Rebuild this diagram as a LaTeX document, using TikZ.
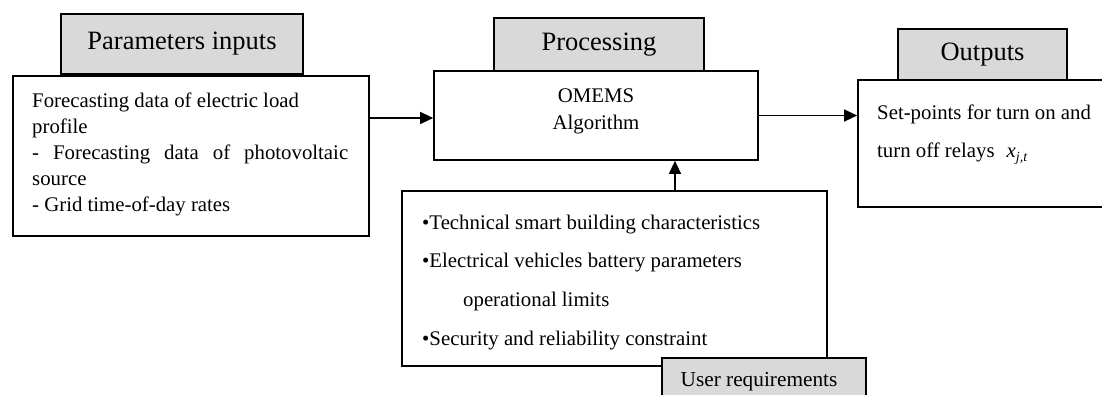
\documentclass[tikz,border=0pt]{standalone}
\usepackage{fontspec}
\setmainfont{Liberation Serif}
\usetikzlibrary{arrows.meta}
\definecolor{tabgray}{RGB}{217,217,217}
\begin{document}
\begin{tikzpicture}[x=1pt,y=-1pt,
  box/.style={draw=black, line width=1.7pt, fill=white, inner sep=0pt},
  tab/.style={draw=black, line width=1.7pt, fill=tabgray, inner sep=0pt,
              font=\fontsize{26.5}{30}\selectfont},
  body/.style={inner sep=0pt, font=\fontsize{20.8}{26}\selectfont},
  arr/.style={-{Triangle[length=13pt,width=12pt]}, line width=1.4pt}]
\clip (0,0) rectangle (1102,394);
\fill[white] (0,0) rectangle (1102,394);

% tabs on top and boxes
\node[tab, minimum width=242pt, minimum height=60pt] (intab) at (182,44) {Parameters inputs};
\node[box, minimum width=356pt, minimum height=160pt] (inbox) at (191,156) {};

\node[tab, minimum width=210pt, minimum height=53pt] (proctab) at (599,44.5) {Processing};
\node[box, minimum width=324pt, minimum height=89pt] (procbox) at (596,115.5) {};

\node[tab, minimum width=169pt, minimum height=51pt] (outtab) at (982.5,54.5) {Outputs};
\node[box, minimum width=262pt, minimum height=127pt] (outbox) at (989,143.5) {};

\node[box, minimum width=425pt, minimum height=175pt] (reqbox) at (614.5,278.5) {};
\node[tab, minimum width=204pt, minimum height=60pt] (usertab) at (764,388) {};
\node[body, font=\fontsize{21.3}{26}\selectfont] (usertext) at (759,382) {User requirements};

% texts
\node[body, anchor=base west] (intext) at (32,107) {\parbox[t]{316pt}{\fontsize{20.8}{26}\selectfont
  Forecasting data of electric load\\
  profile\\
  \makebox[\linewidth][s]{- Forecasting data of photovoltaic}\\
  source\\
  - Grid time-of-day rates}};

\node[body, anchor=base] (proctext) at (596,102) {\parbox[t]{300pt}{\centering\fontsize{20.8}{27}\selectfont
  OMEMS\\Algorithm}};

\node[body, anchor=base west] (outtext) at (877,119) {\parbox[t]{225pt}{\fontsize{20.8}{38}\selectfont
  Set-points for turn on and\\
  turn off relays\hspace{12pt}\textit{x}\raisebox{-4.5pt}{\fontsize{14}{14}\selectfont\textit{j,t}}}};

\node[body, anchor=base west] (reqtext) at (422,229) {\parbox[t]{400pt}{\fontsize{20.8}{38.7}\selectfont
  •Technical smart building characteristics\\
  •Electrical vehicles battery parameters\\
  \hspace*{41pt}operational limits\\
  •Security and reliability constraint}};

% connectors
\draw[arr] (inbox.east |- 0,118) -- (procbox.west |- 0,118);
\draw[arr] (procbox.east) -- (procbox.east -| outbox.west);
\draw[arr] (reqbox.north -| 675,0) -- (procbox.south -| 675,0);
\end{tikzpicture}
\end{document}
